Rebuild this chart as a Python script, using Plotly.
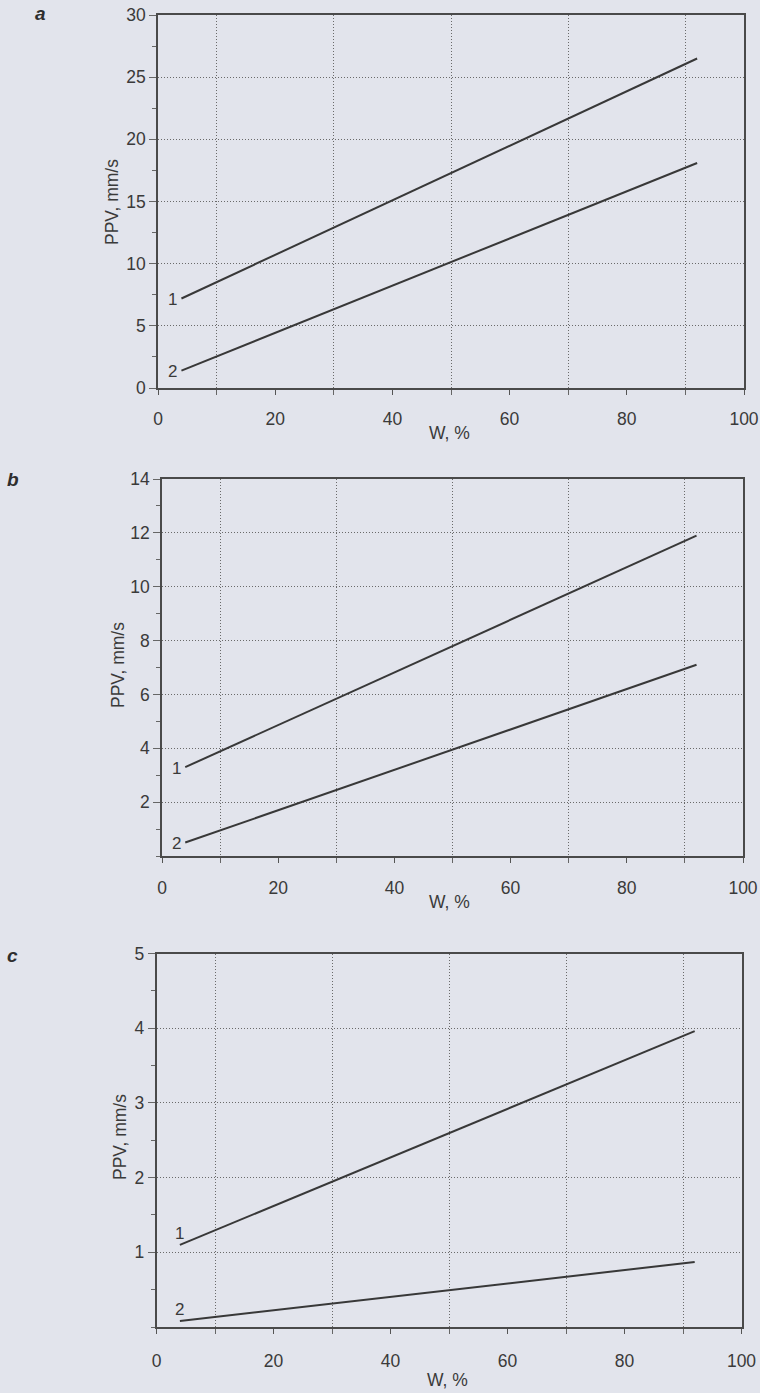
import plotly.graph_objects as go

# ---- data ----
W = [4, 92]                      # W, % (start and end of each curve)
a_curve1 = [7.2, 26.5]           # panel a, PPV mm/s
a_curve2 = [1.4, 18.1]
b_curve1 = [3.3, 11.9]           # panel b
b_curve2 = [0.5, 7.1]
c_curve1 = [1.1, 3.96]           # panel c
c_curve2 = [0.08, 0.87]

x_ticks = [0, 20, 40, 60, 80, 100]
x_grid = [10, 30, 50, 70, 90]
a_yticks = [0, 5, 10, 15, 20, 25, 30]
b_yticks = [2, 4, 6, 8, 10, 12, 14]
c_yticks = [1, 2, 3, 4, 5]
curve_names = ["1", "2"]
panel_letters = ["a", "b", "c"]

# ---- style ----
BG = "#e2e4ec"
INK = "#3a3a3a"
LINE = "#383838"
GRID = "#6a6a6a"
DOT = "1px,2px"
FONT = "Liberation Sans, Arial, sans-serif"
W_PX, H_PX = 760, 1393

def px_x(p):
    return p / W_PX

def px_y(p):
    return (H_PX - p) / H_PX

panels = [
    dict(c1=a_curve1, c2=a_curve2, yt=a_yticks, yr=[0, 30], minor=2.5,
         xd=[px_x(158), px_x(744)], yd=[px_y(388), px_y(15)], standoff=9,
         xt=(449, 433), yt_pos=(112, 202), letter=(40, 13), label_mode="left"),
    dict(c1=b_curve1, c2=b_curve2, yt=b_yticks, yr=[0, 14], minor=1,
         xd=[px_x(162), px_x(743)], yd=[px_y(856), px_y(479)], standoff=10,
         xt=(450, 902), yt_pos=(118, 665), letter=(13, 480), label_mode="left"),
    dict(c1=c_curve1, c2=c_curve2, yt=c_yticks, yr=[0, 5], minor=0.5,
         xd=[px_x(156.5), px_x(741.5)], yd=[px_y(1327), px_y(953.5)], standoff=12,
         xt=(447, 1380), yt_pos=(120, 1137), letter=(12, 955), label_mode="above"),
]

fig = go.Figure()
annotations = []
layout = {}

for i, p in enumerate(panels):
    n = "" if i == 0 else str(i + 1)
    xa, ya = "x" + n, "y" + n
    for name, ys in zip(curve_names, [p["c1"], p["c2"]]):
        fig.add_trace(go.Scatter(x=W, y=ys, mode="lines", xaxis=xa, yaxis=ya,
                                 line=dict(color=LINE, width=2), showlegend=False,
                                 hoverinfo="skip"))
        if p["label_mode"] == "left":
            annotations.append(dict(x=W[0], y=ys[0], xref=xa, yref=ya, text=name,
                                    showarrow=False, xanchor="right", yanchor="middle",
                                    xshift=-2, yshift=-1,
                                    font=dict(family=FONT, size=17, color=INK)))
        else:
            annotations.append(dict(x=W[0], y=ys[0], xref=xa, yref=ya, text=name,
                                    showarrow=False, xanchor="center", yanchor="bottom",
                                    yshift=0,
                                    font=dict(family=FONT, size=17, color=INK)))

    layout["xaxis" + n] = dict(
        domain=p["xd"], anchor=ya, range=[0, 100], tickvals=x_ticks,
        showgrid=False, zeroline=False, showline=True, mirror=True,
        linecolor="#4a4a4a", linewidth=1.5, ticks="outside", ticklen=5,
        tickcolor="#555555", tickwidth=1, ticklabelstandoff=p["standoff"],
        tickfont=dict(family=FONT, size=17.5, color=INK),
        minor=dict(tickvals=x_grid, showgrid=True, gridcolor=GRID, gridwidth=1,
                   griddash=DOT, ticks="outside", ticklen=5, tickcolor="#666666"),
        automargin=False, fixedrange=True,
    )
    layout["yaxis" + n] = dict(
        domain=p["yd"], anchor=xa, range=p["yr"], tickvals=p["yt"],
        showgrid=True, gridcolor=GRID, gridwidth=1, griddash=DOT,
        zeroline=False, showline=True, mirror=True,
        linecolor="#4a4a4a", linewidth=1.5, ticks="outside", ticklen=7,
        tickcolor="#666666", tickwidth=1,
        tickfont=dict(family=FONT, size=17.5, color=INK),
        minor=dict(dtick=p["minor"], tick0=0, ticks="outside", ticklen=4,
                   tickcolor="#666666", showgrid=False),
        automargin=False, fixedrange=True,
    )
    # axis titles
    annotations.append(dict(x=px_x(p["xt"][0]), y=px_y(p["xt"][1]), xref="paper", yref="paper",
                            text="W, %", showarrow=False, xanchor="center", yanchor="middle",
                            font=dict(family=FONT, size=17.5, color=INK)))
    annotations.append(dict(x=px_x(p["yt_pos"][0]), y=px_y(p["yt_pos"][1]), xref="paper", yref="paper",
                            text="PPV, mm/s", textangle=-90, showarrow=False,
                            xanchor="center", yanchor="middle",
                            font=dict(family=FONT, size=17.5, color=INK)))
    annotations.append(dict(x=px_x(p["letter"][0]), y=px_y(p["letter"][1]), xref="paper", yref="paper",
                            text="<b><i>" + panel_letters[i] + "</i></b>", showarrow=False,
                            xanchor="center", yanchor="middle",
                            font=dict(family=FONT, size=19, color="#2e2e2e")))

fig.update_layout(
    width=W_PX, height=H_PX, margin=dict(l=0, r=0, t=0, b=0, pad=0),
    paper_bgcolor=BG, plot_bgcolor=BG, annotations=annotations, **layout,
)

fig.write_html(
    "out.html",
    config={"displayModeBar": False},
    post_script="document.body.style.margin='0px';document.body.style.overflow='hidden';"
    "document.body.style.background='" + BG + "';",
)
